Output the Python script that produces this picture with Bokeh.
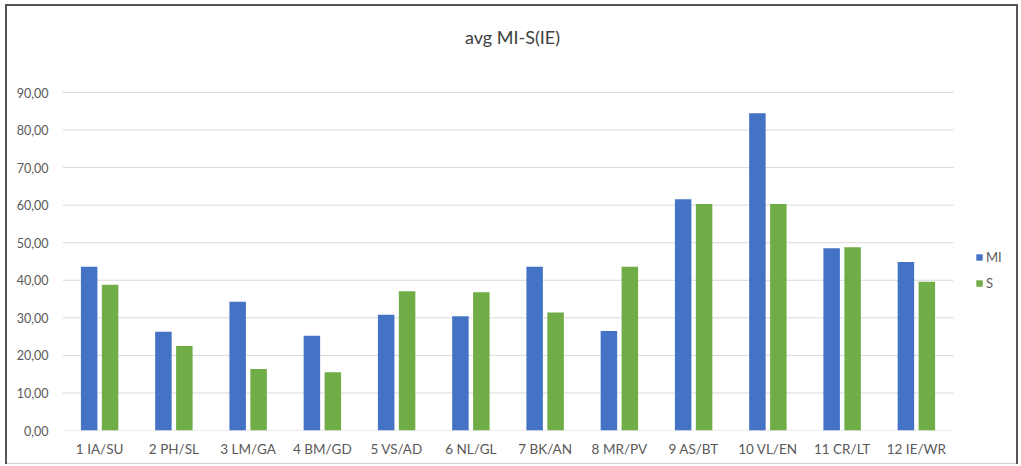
from bokeh.plotting import figure
from bokeh.models import (Range1d, FixedTicker, Legend, LegendItem, Label,
                          ColumnDataSource)
from bokeh.transform import dodge
from bokeh.embed import file_html
from bokeh.resources import INLINE

# Data
pairs = ["1 IA/SU", "2 PH/SL", "3 LM/GA", "4 BM/GD", "5 VS/AD", "6 NL/GL",
         "7 BK/AN", "8 MR/PV", "9 AS/BT", "10 VL/EN", "11 CR/LT", "12 IE/WR"]
mi = [43.6, 26.3, 34.3, 25.2, 30.8, 30.4, 43.6, 26.5, 61.6, 84.5, 48.5, 44.9]
s = [38.8, 22.5, 16.4, 15.5, 37.1, 36.8, 31.4, 43.6, 60.3, 60.3, 48.8, 39.6]
y_ticks = [0, 10, 20, 30, 40, 50, 60, 70, 80, 90]
y_tick_labels = ["0,00", "10,00", "20,00", "30,00", "40,00", "50,00",
                 "60,00", "70,00", "80,00", "90,00"]
title_text = "avg MI-S(IE)"

FONT = "Lato"
TEXT = "#595959"
BLUE = "#4472C4"
GREEN = "#70AD47"
GRID = "#d9d9d9"
EDGE = "#555555"

W, H = 1021, 466
pos = list(range(1, len(pairs) + 1))
src = ColumnDataSource(dict(pos=pos, mi=mi, s=s))

# Chart frame drawn as layered inset shadows (lightest layers on top)
frame_css = ", ".join([
    "inset 5px 0 0 0 #ffffff", "inset 0 4px 0 0 #ffffff",
    "inset -3px 0 0 0 #ffffff", "inset 0 -2px 0 0 #ffffff",
    "inset 7px 0 0 0 " + EDGE, "inset 0 6px 0 0 " + EDGE,
    "inset -5px 0 0 0 " + EDGE, "inset 0 -3px 0 0 #d0d0d0",
])

# The plotting frame also holds the heading and the key, so the ranges
# reach past the last group and above the top tick.
x_end = 0.5 + len(pairs) * 950 / 891
y_top = (430 - 6) * 90 / 338

p = figure(width=W, height=H, x_range=Range1d(0.5, x_end), y_range=Range1d(0, y_top),
           output_backend="svg", toolbar_location=None,
           min_border_left=62, min_border_right=9, min_border_top=6,
           min_border_bottom=36)
p.styles = {"box-shadow": frame_css, "background-color": "white"}
p.outline_line_color = None
p.background_fill_color = None
p.border_fill_color = None

r_mi = p.vbar(x=dodge("pos", -0.141), top="mi", width=0.222,
              source=src, fill_color=BLUE, line_color=None)
r_s = p.vbar(x=dodge("pos", 0.141), top="s", width=0.222,
             source=src, fill_color=GREEN, line_color=None)

# Horizontal gridlines across the category span only
p.segment(x0=0.5, x1=len(pairs) + 0.5, y0=y_ticks, y1=y_ticks,
          line_color=GRID, line_width=1, level="underlay")

# Axes
p.xaxis.ticker = FixedTicker(ticks=pos)
p.xaxis.major_label_overrides = {k: v for k, v in zip(pos, pairs)}
p.yaxis.ticker = FixedTicker(ticks=y_ticks)
p.yaxis.major_label_overrides = {t: l for t, l in zip(y_ticks, y_tick_labels)}
for ax in (p.xaxis, p.yaxis):
    ax.axis_line_color = None
    ax.major_tick_line_color = None
    ax.minor_tick_line_color = None
    ax.major_tick_out = 0
    ax.major_tick_in = 0
    ax.minor_tick_out = 0
    ax.minor_tick_in = 0
    ax.major_label_text_font = FONT
    ax.major_label_text_color = TEXT
p.yaxis.major_label_text_font_size = "12.5px"
p.xaxis.major_label_text_font_size = "13.5px"
p.yaxis.major_label_standoff = 14
p.xaxis.major_label_standoff = 10
p.xgrid.grid_line_color = None
p.ygrid.grid_line_color = None

# Heading
p.add_layout(Label(x=6.56, y=104.9, text=title_text, text_align="center",
                   text_baseline="middle", text_font=FONT,
                   text_font_size="18px", text_color="#404040"))

# Key
legend = Legend(items=[LegendItem(label="MI", renderers=[r_mi]),
                       LegendItem(label="S", renderers=[r_s])],
                location=(913, 139), glyph_width=8, glyph_height=8,
                label_standoff=3, spacing=10, padding=0, margin=0,
                border_line_color=None, background_fill_alpha=0,
                label_text_font=FONT, label_text_font_size="13px",
                label_text_color=TEXT)
p.add_layout(legend, "center")

open("out.html", "w").write(file_html(p, INLINE))
